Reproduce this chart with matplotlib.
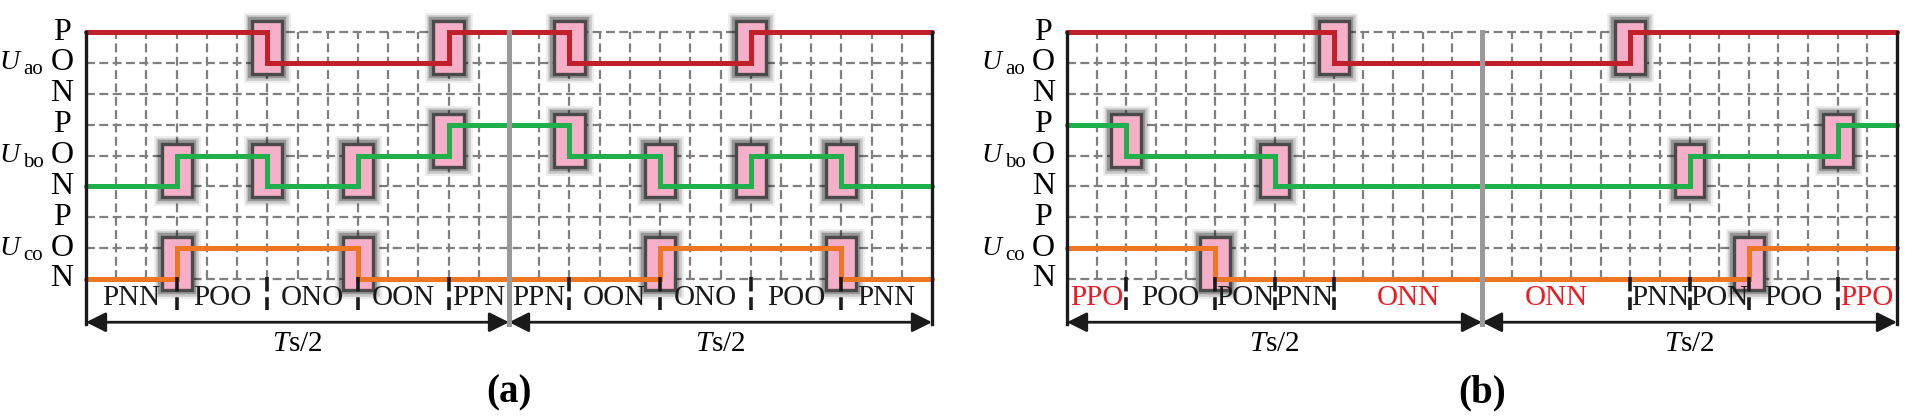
import numpy as np
import matplotlib
matplotlib.use("Agg")
import matplotlib.pyplot as plt
from matplotlib.patches import Rectangle

plt.rcParams['font.family'] = ['Liberation Serif', 'DejaVu Serif']
plt.rcParams['mathtext.fontset'] = 'custom'
plt.rcParams['mathtext.rm'] = 'Liberation Serif'
plt.rcParams['mathtext.it'] = 'Liberation Serif:italic'

# switching states, time in grid columns (28 columns = Ts)
LEVEL = {'N': 0, 'O': 1, 'P': 2}
N_COLS = 28

a_ua_t = [0, 6, 12, 16, 22, 28]
a_ua_s = ['P', 'O', 'P', 'O', 'P']
a_ub_t = [0, 3, 6, 9, 12, 16, 19, 22, 25, 28]
a_ub_s = ['N', 'O', 'N', 'O', 'P', 'O', 'N', 'O', 'N']
a_uc_t = [0, 3, 9, 19, 25, 28]
a_uc_s = ['N', 'O', 'N', 'O', 'N']
a_seg = [0, 3, 6, 9, 12, 14, 16, 19, 22, 25, 28]
a_lab = ['PNN', 'POO', 'ONO', 'OON', 'PPN', 'PPN', 'OON', 'ONO', 'POO', 'PNN']
a_red = []

b_ua_t = [0, 9, 19, 28]
b_ua_s = ['P', 'O', 'P']
b_ub_t = [0, 2, 7, 21, 26, 28]
b_ub_s = ['P', 'O', 'N', 'O', 'P']
b_uc_t = [0, 5, 23, 28]
b_uc_s = ['O', 'N', 'O']
b_seg = [0, 2, 5, 7, 9, 14, 19, 21, 23, 26, 28]
b_lab = ['PPO', 'POO', 'PON', 'PNN', 'ONN', 'ONN', 'PNN', 'PON', 'POO', 'PPO']
b_red = ['PPO', 'ONN']

phase_names = ['ao', 'bo', 'co']
phase_colors = ['#c1202b', '#1fb04c', '#ee7623']
phase_base = [6, 3, 0]


def draw_box(ax, x, lo, hi):
    y0, h = lo - 0.36, hi - lo + 0.72
    for lw, al in [(12, 0.08), (9, 0.14), (6, 0.25)]:
        ax.add_patch(Rectangle((x - 0.5, y0), 1, h, fill=False, edgecolor='k',
                               lw=lw, alpha=al, zorder=2, clip_on=False))
    ax.add_patch(Rectangle((x - 0.5, y0), 1, h, facecolor='#f5afc9',
                           edgecolor='#4a4a4a', lw=2.4, zorder=2.5, clip_on=False))


def draw_panel(ax, phases, seg, labels, red, tag):
    ax.set_xlim(0, N_COLS)
    ax.set_ylim(0, 8)
    ax.axis('off')
    # dashed grid
    for k in range(9):
        ax.plot([0, N_COLS], [k, k], color='#7f7f7f', lw=1.6, ls=(0, (4, 2)),
                zorder=1, clip_on=False)
    for c in range(1, N_COLS):
        if c == N_COLS // 2:
            continue
        ax.plot([c, c], [0, 8], color='#7f7f7f', lw=1.6, ls=(0, (4, 2)),
                zorder=1, clip_on=False)
    # frame lines
    ax.plot([0, 0], [8, -1.45], color='#1a1a1a', lw=2.4, zorder=5, clip_on=False)
    ax.plot([N_COLS, N_COLS], [8, -1.45], color='#1a1a1a', lw=2.4, zorder=5, clip_on=False)
    ax.plot([N_COLS / 2] * 2, [8, -1.45], color='#9a9a9a', lw=3.6, zorder=5, clip_on=False)

    for (t, s), base, col, name in zip(phases, phase_base, phase_colors, phase_names):
        vals = [base + LEVEL[v] for v in s]
        ax.step(t, vals + [vals[-1]], where='post', color=col, lw=3.6,
                solid_capstyle='round', solid_joinstyle='miter', zorder=4, clip_on=False)
        for i in range(1, len(s)):
            draw_box(ax, t[i], min(vals[i - 1], vals[i]), max(vals[i - 1], vals[i]))
        # level letters
        for lv, letter in zip([2, 1, 0], ['P', 'O', 'N']):
            ax.text(-0.8, base + lv, letter, ha='center', va='center',
                    fontsize=23, clip_on=False)
        ax.text(-2.1, base + 1, r'$U$', ha='right', va='center', fontsize=20)
        ax.annotate(name, xy=(-2.1, base + 1), xytext=(0.5, -5),
                    textcoords='offset points', ha='left', va='center',
                    fontsize=15, annotation_clip=False)

    # sector labels and dividers
    for i, lab in enumerate(labels):
        xc = (seg[i] + seg[i + 1]) / 2
        ax.text(xc, -0.6, lab, ha='center', va='center', fontsize=21,
                color='#ed1c24' if lab in red else '#1a1a1a')
    for x in seg[1:-1]:
        if x == N_COLS // 2:
            continue
        ax.plot([x, x], [0.05, -1.0], color='#1a1a1a', lw=2.6,
                ls=(0, (4, 1.6)), zorder=6, clip_on=False)

    # Ts/2 arrows
    for x0, x1 in [(0, N_COLS / 2), (N_COLS / 2, N_COLS)]:
        ax.annotate('', xy=(x0, -1.4), xytext=(x1, -1.4),
                    arrowprops=dict(arrowstyle='<|-|>', color='#1a1a1a', lw=2,
                                    mutation_scale=30, shrinkA=0, shrinkB=0),
                    annotation_clip=False)
        ax.text((x0 + x1) / 2, -2.1, r'$T{\rm s}/2$', ha='center', va='center',
                fontsize=21)
    ax.text(N_COLS / 2, -3.69, tag, ha='center', va='center', fontsize=28,
            fontweight='bold')


fig = plt.figure(figsize=(19.05, 4.17), dpi=100)
W, H = 1905, 417
bottom, top = 279, 32
ax_a = fig.add_axes([86 / W, 1 - bottom / H, 846 / W, (bottom - top) / H])
ax_b = fig.add_axes([1067 / W, 1 - bottom / H, 830 / W, (bottom - top) / H])

draw_panel(ax_a, [(a_ua_t, a_ua_s), (a_ub_t, a_ub_s), (a_uc_t, a_uc_s)],
           a_seg, a_lab, a_red, '(a)')
draw_panel(ax_b, [(b_ua_t, b_ua_s), (b_ub_t, b_ub_s), (b_uc_t, b_uc_s)],
           b_seg, b_lab, b_red, '(b)')

fig.savefig('out.png', dpi=100)
